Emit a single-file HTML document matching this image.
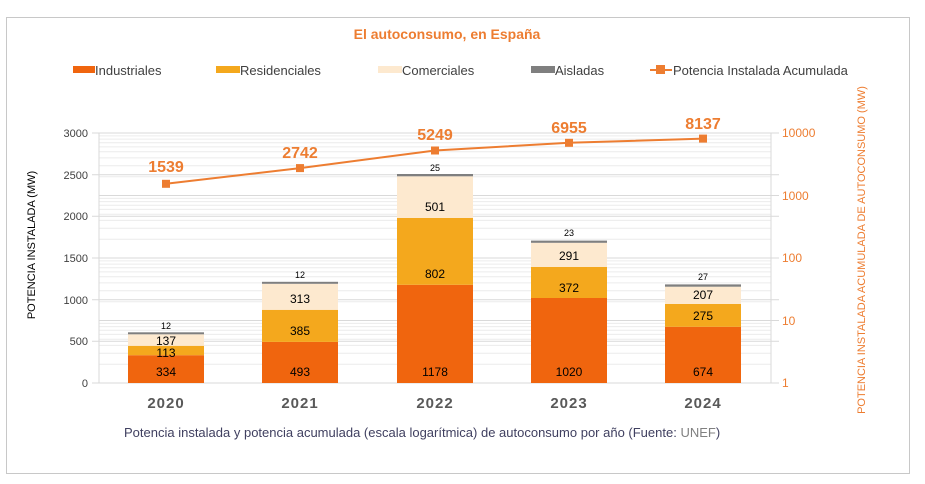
<!DOCTYPE html>
<html><head><meta charset="utf-8"><style>
body{margin:0;background:#fff;width:925px;height:484px;overflow:hidden}
svg{display:block;font-family:"Liberation Sans",sans-serif}
</style></head><body>
<svg width="925" height="484" viewBox="0 0 925 484">
<rect x="6.5" y="17.5" width="903" height="456" fill="#fff" stroke="#c8c8c8"/>
<text x="447" y="39" text-anchor="middle" font-size="14" font-weight="bold" fill="#ed7d31">El autoconsumo, en España</text>
<g font-size="13" fill="#404040">
<rect x="73" y="66" width="22" height="7" fill="#f0650e"/><text x="95" y="75">Industriales</text>
<rect x="216" y="66" width="24" height="7" fill="#f4a81d"/><text x="240" y="75">Residenciales</text>
<rect x="378" y="66" width="24" height="7" fill="#fde9cf"/><text x="402" y="75">Comerciales</text>
<rect x="531" y="66" width="24" height="7" fill="#7f7f7f"/><text x="555" y="75">Aisladas</text>
<line x1="650" y1="70" x2="672" y2="70" stroke="#ed7d31" stroke-width="2"/><rect x="656" y="65" width="9" height="9" fill="#ed7d31"/><text x="673" y="75">Potencia Instalada Acumulada</text>
</g>
<defs>
<g id="dec" stroke="#ececec" stroke-width="1">
<line x1="99" x2="771" y1="-18.8" y2="-18.8"/><line x1="99" x2="771" y1="-29.8" y2="-29.8"/>
<line x1="99" x2="771" y1="-37.6" y2="-37.6"/><line x1="99" x2="771" y1="-43.7" y2="-43.7"/>
<line x1="99" x2="771" y1="-48.6" y2="-48.6"/><line x1="99" x2="771" y1="-52.8" y2="-52.8"/>
<line x1="99" x2="771" y1="-56.4" y2="-56.4"/><line x1="99" x2="771" y1="-59.6" y2="-59.6"/>
</g>
</defs>
<use href="#dec" transform="translate(0,383)"/>
<use href="#dec" transform="translate(0,320.5)"/>
<use href="#dec" transform="translate(0,258)"/>
<use href="#dec" transform="translate(0,195.5)"/>
<g stroke="#d9d9d9" stroke-width="1">
<line x1="92" x2="779" y1="341.3" y2="341.3"/><line x1="92" x2="779" y1="299.7" y2="299.7"/>
<line x1="92" x2="779" y1="258" y2="258"/><line x1="92" x2="779" y1="216.3" y2="216.3"/>
<line x1="92" x2="779" y1="174.7" y2="174.7"/><line x1="92" x2="779" y1="133" y2="133"/>
<line x1="99" x2="779" y1="320.5" y2="320.5"/><line x1="99" x2="779" y1="195.5" y2="195.5"/>
<line x1="92" x2="779" y1="383" y2="383"/>
<line x1="99" x2="99" y1="133" y2="383"/><line x1="771" x2="771" y1="133" y2="383"/>
</g>
<g font-size="11" fill="#404040" text-anchor="end">
<text x="88" y="387">0</text><text x="88" y="345">500</text><text x="88" y="304">1000</text>
<text x="88" y="262">1500</text><text x="88" y="220">2000</text><text x="88" y="179">2500</text><text x="88" y="137">3000</text>
</g>
<g font-size="12" fill="#ed7d31">
<text x="782" y="387">1</text><text x="782" y="325">10</text><text x="782" y="262">100</text>
<text x="782" y="200">1000</text><text x="782" y="137">10000</text>
</g>
<text transform="translate(35,245) rotate(-90)" text-anchor="middle" font-size="11" fill="#000">POTENCIA  INSTALADA (MW)</text>
<text transform="translate(865,250) rotate(-90)" text-anchor="middle" font-size="11" fill="#ed7d31">POTENCIA INSTALADA ACUMULADA DE AUTOCONSUMO (MW)</text>
<g>
<rect x="128" y="355.2" width="76" height="27.8" fill="#f0650e"/>
<rect x="128" y="345.8" width="76" height="9.4" fill="#f4a81d"/>
<rect x="128" y="334.3" width="76" height="11.5" fill="#fde9cf"/>
<rect x="128" y="332.3" width="76" height="2" fill="#7f7f7f"/>
<rect x="262" y="341.9" width="76" height="41.1" fill="#f0650e"/>
<rect x="262" y="309.8" width="76" height="32.1" fill="#f4a81d"/>
<rect x="262" y="283.8" width="76" height="26" fill="#fde9cf"/>
<rect x="262" y="281.8" width="76" height="2" fill="#7f7f7f"/>
<rect x="397" y="284.8" width="76" height="98.2" fill="#f0650e"/>
<rect x="397" y="218" width="76" height="66.8" fill="#f4a81d"/>
<rect x="397" y="176.3" width="76" height="41.7" fill="#fde9cf"/>
<rect x="397" y="174" width="76" height="2.3" fill="#7f7f7f"/>
<rect x="531" y="298" width="76" height="85" fill="#f0650e"/>
<rect x="531" y="267" width="76" height="31" fill="#f4a81d"/>
<rect x="531" y="242.8" width="76" height="24.2" fill="#fde9cf"/>
<rect x="531" y="240.6" width="76" height="2.2" fill="#7f7f7f"/>
<rect x="665" y="326.8" width="76" height="56.2" fill="#f0650e"/>
<rect x="665" y="303.9" width="76" height="22.9" fill="#f4a81d"/>
<rect x="665" y="286.7" width="76" height="17.2" fill="#fde9cf"/>
<rect x="665" y="284.4" width="76" height="2.3" fill="#7f7f7f"/>
</g>
<g font-size="12" fill="#000" text-anchor="middle">
<text x="166" y="376">334</text><text x="166" y="357">113</text><text x="166" y="345">137</text>
<text x="300" y="376">493</text><text x="300" y="335">385</text><text x="300" y="303">313</text>
<text x="435" y="376">1178</text><text x="435" y="278">802</text><text x="435" y="211">501</text>
<text x="569" y="376">1020</text><text x="569" y="292">372</text><text x="569" y="260">291</text>
<text x="703" y="376">674</text><text x="703" y="320">275</text><text x="703" y="299">207</text>
</g>
<g font-size="9" fill="#000" text-anchor="middle">
<text x="166" y="329">12</text><text x="300" y="278">12</text><text x="435" y="171">25</text>
<text x="569" y="236">23</text><text x="703" y="280">27</text>
</g>
<polyline points="166,183.8 300,168.1 435,150.5 569,142.8 703,138.6" fill="none" stroke="#ed7d31" stroke-width="2"/>
<g fill="#ed7d31">
<rect x="162" y="179.8" width="8" height="8"/><rect x="296" y="164.1" width="8" height="8"/>
<rect x="431" y="146.5" width="8" height="8"/><rect x="565" y="138.8" width="8" height="8"/>
<rect x="699" y="134.6" width="8" height="8"/>
</g>
<g font-size="16" font-weight="bold" fill="#ed7d31" text-anchor="middle">
<text x="166" y="172">1539</text><text x="300" y="158">2742</text><text x="435" y="140">5249</text>
<text x="569" y="133">6955</text><text x="703" y="129">8137</text>
</g>
<g font-size="15" font-weight="bold" fill="#595959" text-anchor="middle" letter-spacing="1">
<text x="166" y="408">2020</text><text x="300" y="408">2021</text><text x="435" y="408">2022</text>
<text x="569" y="408">2023</text><text x="703" y="408">2024</text>
</g>
<text x="124" y="437" font-size="13" fill="#404060">Potencia instalada y potencia acumulada (escala logarítmica) de autoconsumo por año (Fuente: <tspan fill="#808080">UNEF</tspan>)</text>
</svg>
</body></html>
